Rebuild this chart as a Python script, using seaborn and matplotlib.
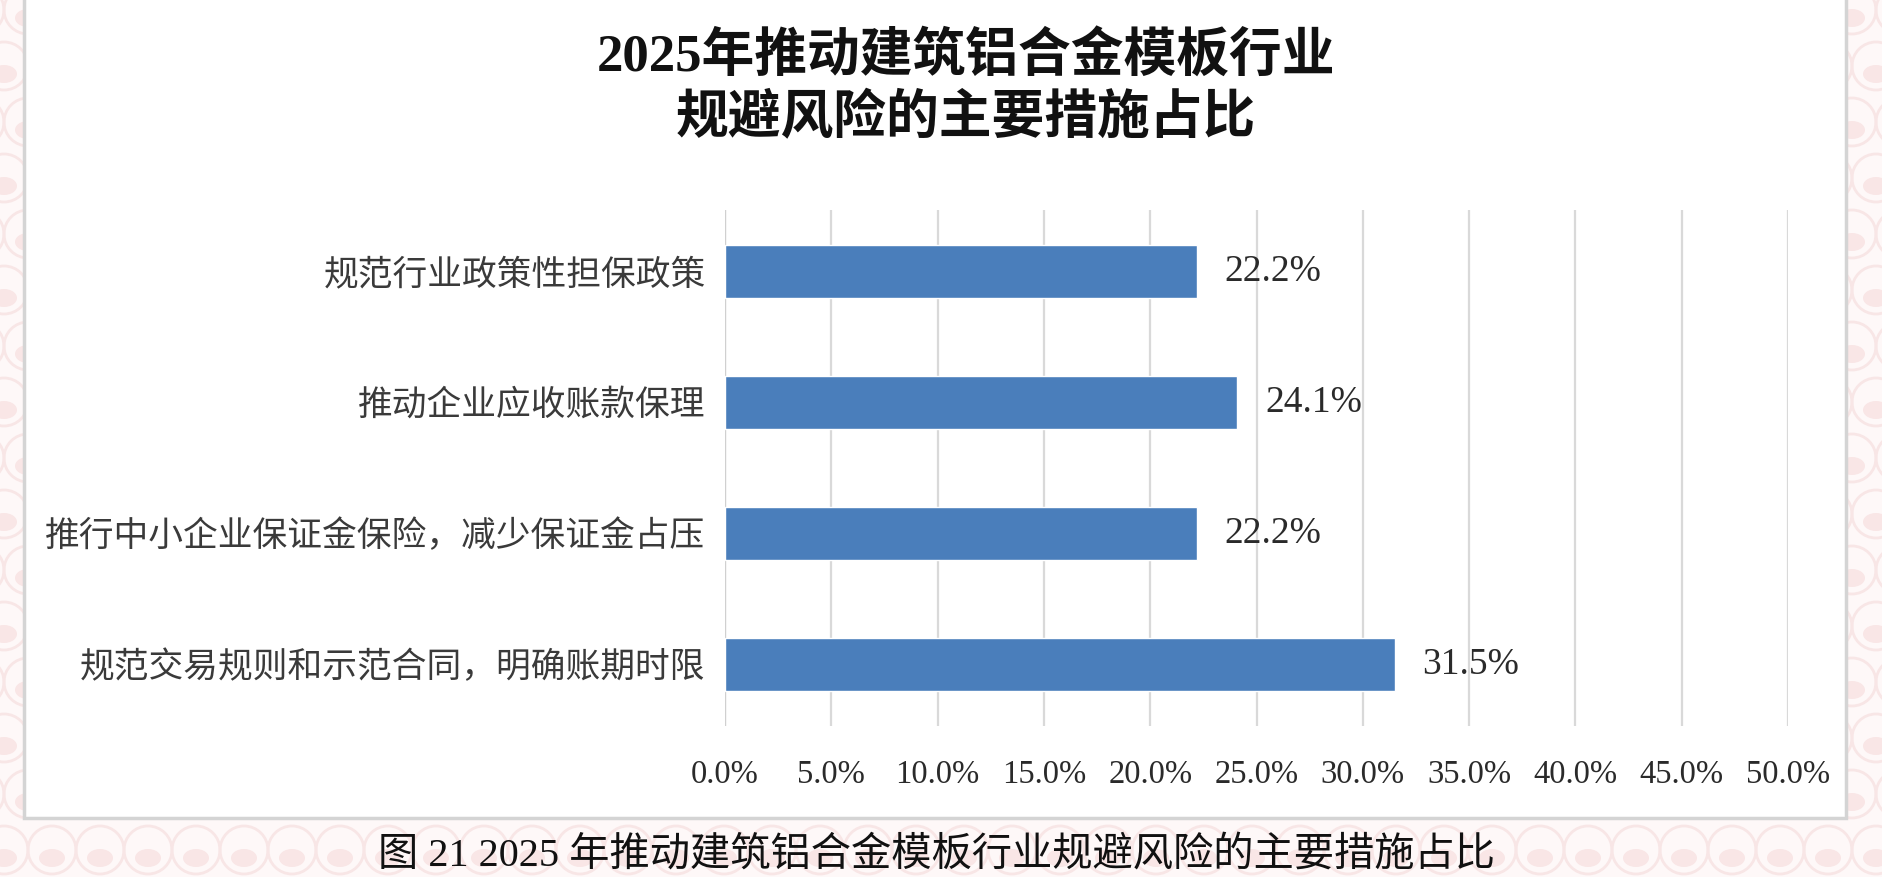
import matplotlib
matplotlib.use('Agg')
import matplotlib.pyplot as plt
import seaborn as sns
import numpy as np
import pandas as pd
from matplotlib.patches import Rectangle, Circle, Ellipse

# data
measures = ['规范行业政策性担保政策',
            '推动企业应收账款保理',
            '推行中小企业保证金保险，减少保证金占压',
            '规范交易规则和示范合同，明确账期时限']
shares = [22.2, 24.1, 22.2, 31.5]
x_ticks = [0, 5, 10, 15, 20, 25, 30, 35, 40, 45, 50]

title = '2025年推动建筑铝合金模板行业\n规避风险的主要措施占比'
caption = '图 21 2025 年推动建筑铝合金模板行业规避风险的主要措施占比'

sns.set_theme(style='white')
plt.rcParams['font.family'] = ['Liberation Serif', 'Noto Sans CJK SC']
plt.rcParams['axes.unicode_minus'] = False

W, H = 1882, 877
fig = plt.figure(figsize=(W / 100, H / 100), dpi=100)
fig.patch.set_facecolor('#fef8f8')

# background pattern + white panel, in pixel coords
bg = fig.add_axes([0, 0, 1, 1], zorder=-10)
bg.set_xlim(0, W)
bg.set_ylim(H, 0)
bg.axis('off')
for row, cy in enumerate(range(10, H + 40, 56)):
    off = 0 if row % 2 == 0 else 24
    for cx in range(-20 + off, W + 40, 48):
        bg.add_patch(Circle((cx, cy), 24, fill=False, ec='#f8e6e6', lw=2))
        bg.add_patch(Ellipse((cx, cy + 8), 26, 18, fc='#f9e6e6', ec='none'))
bg.add_patch(Rectangle((24, -4), 1822, 822, fc='white', ec='#d4d4d4', lw=2.5, zorder=5))

ax = fig.add_axes([725 / W, 1 - 726 / H, 1063 / W, (726 - 210) / H], zorder=2)
ax.patch.set_alpha(0)

df = pd.DataFrame({'measure': measures, 'share': shares})
sns.barplot(data=df, x='share', y='measure', orient='h', color='#4a7ebb',
            saturation=1, width=0.4, ax=ax, zorder=3)

ax.set_xlim(0, 50)
ax.set_ylim(3.47, -0.47)
ax.set_xticks(x_ticks)
ax.set_xticklabels([f'{t:.1f}%' for t in x_ticks])
ax.xaxis.grid(True, color='#d9d9d9', lw=1.6)
ax.yaxis.grid(False)
ax.set_axisbelow(True)
for s in ax.spines.values():
    s.set_visible(False)
ax.axvline(0, color='#d0d0d0', lw=1.6, zorder=1)
ax.tick_params(axis='x', length=0, pad=24, labelsize=23.5, labelcolor='#2a2a2a')
ax.tick_params(axis='y', length=0, pad=14, labelsize=25, labelcolor='#3a3a3a')
ax.set_xlabel('')
ax.set_ylabel('')

ax.bar_label(ax.containers[0], fmt='%.1f%%', padding=20, fontsize=27, color='#2a2a2a')

fig.text(0.5 + 25 / W, 1 - 88 / H, title, ha='center', va='center', fontsize=38,
         fontweight='bold', color='#111111', linespacing=1.25)
fig.text(937 / W, 1 - 856 / H, caption, ha='center', va='center', fontsize=29,
         color='#111111')

fig.savefig('out.png', dpi=100, facecolor=fig.get_facecolor())
